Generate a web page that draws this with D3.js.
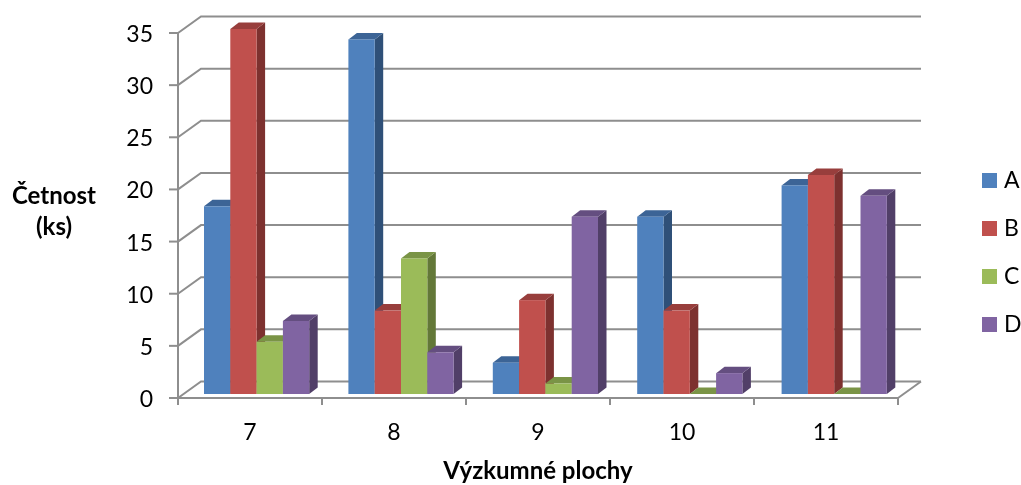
<!DOCTYPE html>
<html>
<head>
<meta charset="utf-8">
<script src="https://cdnjs.cloudflare.com/ajax/libs/d3/7.8.5/d3.min.js"></script>
<style>
    html, body { margin: 0; padding: 0; background: #fff; }
    svg { display: block; filter: blur(0.45px); }
    text { font-family: Lato, "Open Sans", sans-serif; fill: #000; }
</style>
</head>
<body>
<svg id="chart" width="1021" height="485"></svg>
<script>
// Data
const categories = ['7', '8', '9', '10', '11'];
const seriesNames = ['A', 'B', 'C', 'D'];
const valuesA = [18, 34, 3, 17, 20];
const valuesB = [35, 8, 9, 8, 21];
const valuesC = [5, 13, 1, 0, 0];
const valuesD = [7, 4, 17, 2, 19];
const yTicks = [0, 5, 10, 15, 20, 25, 30, 35];

const seriesValues = [valuesA, valuesB, valuesC, valuesD];
const front = ['#4f81bd', '#c0504d', '#9bbb59', '#8064a2'];
const topFace = ['#3c6496', '#983e3c', '#7a9446', '#644e80'];
const sideFace = ['#2f5078', '#7d312f', '#637838', '#513f68'];

const svg = d3.select('#chart');
const axisColor = '#8e8e8e';

// Front plane of the 3D box
const x0 = 178, x1 = 898, yBase = 398, yTop = 33;
const wallDx = 23, wallDy = -16.5; // back wall offset
const depthDx = 8.5, depthDy = -6.5; // bar depth
const barBaseOffset = -4;          // bars stand slightly behind the front edge

const xScale = d3.scaleBand().domain(categories).range([x0, x1]);
// bars sit a little deeper in the box, so their spacing differs from the ticks
const barScale = d3.scaleBand().domain(categories).range([178.5, 900.5]);
const yScale = d3.scaleLinear().domain([0, 35]).range([yBase, yTop]);
const barWidth = 26.3;
const barStart = 25.5;

// Grid lines: side wall + back wall
const grid = svg.append('g');
yTicks.forEach(t => {
    const y = yScale(t);
    grid.append('polyline')
        .attr('points', `${x0},${y} ${x0 + wallDx},${y + wallDy} ${x1 + wallDx},${y + wallDy}`)
        .attr('fill', 'none').attr('stroke', axisColor).attr('stroke-width', 2);
});

// Left axis and floor edges
const axis = svg.append('g').attr('stroke', axisColor).attr('stroke-width', 2).attr('fill', 'none');
axis.append('line').attr('x1', x0).attr('x2', x0).attr('y1', yTop).attr('y2', yBase + 7);
axis.append('line').attr('x1', x0).attr('x2', x1).attr('y1', yBase).attr('y2', yBase);
axis.append('line').attr('x1', x1).attr('x2', x1 + wallDx).attr('y1', yBase).attr('y2', yBase + wallDy);
yTicks.forEach(t => {
    axis.append('line').attr('x1', x0 - 9).attr('x2', x0)
        .attr('y1', yScale(t)).attr('y2', yScale(t));
});
categories.concat(['end']).forEach((c, i) => {
    const x = x0 + i * xScale.bandwidth();
    axis.append('line').attr('x1', x).attr('x2', x).attr('y1', yBase).attr('y2', yBase + 7);
});

// Bars, drawn left to right so later fronts cover earlier sides
categories.forEach((cat, ci) => {
    seriesNames.forEach((name, si) => {
        const v = seriesValues[si][ci];
        const left = barScale(cat) + barStart + si * barWidth;
        const right = left + barWidth;
        const bottom = yBase + barBaseOffset;
        const top = yScale(v) + barBaseOffset;
        const g = svg.append('g');

        g.append('path')
            .attr('d', `M${right},${top}L${right + depthDx},${top + depthDy}L${right + depthDx},${bottom + depthDy}L${right},${bottom}Z`)
            .attr('fill', sideFace[si]);
        g.append('path')
            .attr('d', `M${left},${top}L${left + depthDx},${top + depthDy}L${right + depthDx},${top + depthDy}L${right},${top}Z`)
            .attr('fill', topFace[si]);
        if (v > 0) {
            g.append('rect')
                .attr('x', left).attr('y', top)
                .attr('width', barWidth).attr('height', bottom - top)
                .attr('fill', front[si]);
        }
    });
});

// Y tick labels
svg.append('g').selectAll('text').data(yTicks).enter().append('text')
    .attr('x', 153)
    .attr('y', d => yScale(d) + 9)
    .attr('text-anchor', 'end')
    .style('font-size', '23px')
    .text(d => d);

// Category labels
svg.append('g').selectAll('text').data(categories).enter().append('text')
    .attr('x', d => xScale(d) + xScale.bandwidth() / 2)
    .attr('y', 440)
    .attr('text-anchor', 'middle')
    .style('font-size', '23px')
    .text(d => d);

// Axis titles
svg.append('text').attr('x', 54).attr('y', 204).attr('text-anchor', 'middle')
    .style('font-size', '24px').style('font-weight', 'bold').text('Četnost');
svg.append('text').attr('x', 54).attr('y', 235).attr('text-anchor', 'middle')
    .style('font-size', '24px').style('font-weight', 'bold').text('(ks)');
svg.append('text').attr('x', 538).attr('y', 479).attr('text-anchor', 'middle')
    .style('font-size', '24px').style('font-weight', 'bold').text('Výzkumné plochy');

// Legend
const legendY = d3.scalePoint().domain(seriesNames).range([173, 317]);
const legend = svg.append('g').selectAll('g').data(seriesNames).enter().append('g');
legend.append('rect')
    .attr('x', 982).attr('y', d => legendY(d))
    .attr('width', 15).attr('height', 15)
    .attr('fill', (d, i) => front[i]);
legend.append('text')
    .attr('x', 1004).attr('y', d => legendY(d) + 15)
    .style('font-size', '23px')
    .text(d => d);
</script>
</body>
</html>
